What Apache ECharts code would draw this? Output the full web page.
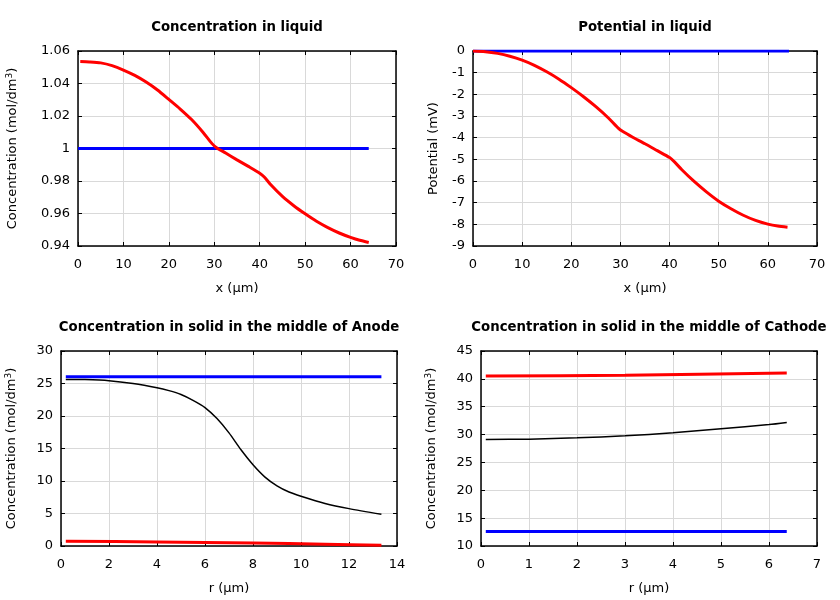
<!DOCTYPE html>
<html><head><meta charset="utf-8">
<script src="https://cdn.jsdelivr.net/npm/echarts@6/dist/echarts.min.js"></script>
<style>html,body{margin:0;padding:0;background:#fff}#c{width:840px;height:600px}</style>
</head><body><div id="c"></div>
<script>
// Panel 1: Concentration in liquid
const liqX = [0.5, 2.5, 5, 7.5, 10, 12.5, 15, 17.5, 20, 22.5, 25, 27.5, 29.5, 30.5, 32.5, 35, 37.5, 40, 41, 42.5, 45, 47.5, 50, 52.5, 55, 57.5, 60, 62, 64];
const liqConc = [1.0535, 1.0533, 1.0527, 1.0510, 1.0483, 1.0450, 1.0409, 1.0360, 1.0302, 1.0243, 1.0178, 1.0100, 1.0030, 1.0005, 0.9972, 0.9930, 0.9890, 0.9848, 0.9825, 0.9775, 0.9705, 0.9648, 0.9598, 0.9552, 0.9513, 0.9480, 0.9453, 0.9435, 0.9422];
const liqConcInitX = [0, 64];
const liqConcInit = [1.0, 1.0];
// Panel 2: Potential in liquid
const potX = [0, 2.5, 5, 7.5, 10, 12.5, 15, 17.5, 20, 22.5, 25, 27.5, 29.5, 30.5, 32.5, 35, 37.5, 40, 41, 42.5, 45, 47.5, 50, 52.5, 55, 57.5, 60, 62, 64];
const potVal = [0, -0.03, -0.11, -0.24, -0.42, -0.66, -0.96, -1.30, -1.69, -2.11, -2.57, -3.08, -3.55, -3.72, -3.98, -4.28, -4.60, -4.92, -5.12, -5.48, -6.02, -6.50, -6.93, -7.28, -7.58, -7.82, -7.99, -8.08, -8.13];
const potInitX = [0, 64.3];
const potInit = [0, 0];
// Panel 3: Anode solid concentration
const anX = [0.2, 1, 2, 3, 4, 4.5, 5, 5.5, 6, 6.5, 7, 7.5, 8, 8.5, 9, 9.5, 10, 11, 12, 13.35];
const anMid = [25.63, 25.6, 25.43, 25.0, 24.35, 23.9, 23.3, 22.4, 21.3, 19.6, 17.4, 14.8, 12.5, 10.6, 9.25, 8.3, 7.65, 6.55, 5.75, 4.88];
const anLowX = [0.2, 4, 8, 11, 13.35];
const anLow = [0.72, 0.63, 0.45, 0.28, 0.1];
const anHighX = [0.2, 13.35];
const anHigh = [26.05, 26.05];
// Panel 4: Cathode solid concentration
const caX = [0.1, 1, 2, 3, 4, 5, 6, 6.37];
const caMid = [29.12, 29.18, 29.42, 29.78, 30.32, 31.05, 31.8, 32.18];
const caHighX = [0.1, 3, 6.37];
const caHigh = [40.5, 40.65, 41.05];
const caLowX = [0.1, 6.37];
const caLow = [12.6, 12.6];

const titles = ['Concentration in liquid', 'Potential in liquid', 'Concentration in solid in the middle of Anode', 'Concentration in solid in the middle of Cathode'];
const xNames = ['x (µm)', 'x (µm)', 'r (µm)', 'r (µm)'];
const yNames = ['Concentration (mol/dm{s|3})', 'Potential (mV)', 'Concentration (mol/dm{s|3})', 'Concentration (mol/dm{s|3})'];
const xRanges = [[0, 70, 10], [0, 70, 10], [0, 14, 2], [0, 7, 1]];
const yRanges = [[0.94, 1.06, 0.02], [-9, 0, 1], [0, 30, 5], [10, 45, 5]];

const grids = [
  {left: 78, top: 51, width: 318, height: 195},
  {left: 473, top: 51, width: 344, height: 195},
  {left: 61, top: 351, width: 336, height: 195},
  {left: 481, top: 351, width: 336, height: 195}
];
const yNameGaps = [58, 33, 42, 42];
const font = 'DejaVu Sans';

function zip(a, b) { return a.map((v, i) => [v, b[i]]); }

const option = {
  backgroundColor: '#fff',
  animation: false,
  title: [], grid: [], xAxis: [], yAxis: [], series: []
};
grids.forEach((g, i) => {
  option.grid.push(Object.assign({containLabel: false}, g));
  option.title.push({
    text: titles[i], left: g.left + g.width / 2, top: i >= 2 ? 321 : 21, textAlign: 'center', padding: 0,
    textStyle: {fontFamily: font, fontSize: 13.3, fontWeight: 'bold', color: '#000'}
  });
  const axLine = {show: true, onZero: false, lineStyle: {color: '#000', width: 1.5}};
  const tick = {show: true, inside: true, length: 4, lineStyle: {color: '#000', width: 1}};
  const lbl = {fontFamily: font, fontSize: 13, color: '#000'};
  const split = {show: true, lineStyle: {color: '#d9d9d9', width: 1}};
  const xr = xRanges[i], yr = yRanges[i];
  const yLabelFmt = v => String(Math.round(v * 1000) / 1000);
  option.xAxis.push({
    type: 'value', gridIndex: i, position: 'bottom', min: xr[0], max: xr[1], interval: xr[2],
    name: xNames[i], nameLocation: 'middle', nameGap: 36,
    nameTextStyle: {fontFamily: font, fontSize: 13, color: '#000'},
    axisLine: axLine, axisTick: tick, axisLabel: Object.assign({margin: 12}, lbl), splitLine: split
  });
  option.xAxis.push({
    type: 'value', gridIndex: i, position: 'top', min: xr[0], max: xr[1], interval: xr[2],
    axisLine: axLine, axisTick: tick, axisLabel: {show: false}, splitLine: {show: false}
  });
  option.yAxis.push({
    type: 'value', gridIndex: i, position: 'left', min: yr[0], max: yr[1], interval: yr[2],
    name: yNames[i], nameLocation: 'middle', nameGap: yNameGaps[i], nameRotate: 90,
    nameTextStyle: {fontFamily: font, fontSize: 13, color: '#000',
      rich: {s: {fontFamily: font, fontSize: 9, color: '#000', verticalAlign: 'top', padding: [0, 0, 6, 0]}}},
    axisLine: axLine, axisTick: tick, axisLabel: Object.assign({margin: 8, formatter: yLabelFmt}, lbl), splitLine: split
  });
  option.yAxis.push({
    type: 'value', gridIndex: i, position: 'right', min: yr[0], max: yr[1], interval: yr[2],
    axisLine: axLine, axisTick: tick, axisLabel: {show: false}, splitLine: {show: false}
  });
});

function addLine(gi, xs, ys, color, width, z) {
  option.series.push({
    type: 'line', xAxisIndex: gi * 2, yAxisIndex: gi * 2, data: zip(xs, ys),
    showSymbol: false, symbol: 'none', smooth: 0.25, z: z || 2,
    lineStyle: {color: color, width: width}, itemStyle: {color: color}
  });
}
addLine(0, liqConcInitX, liqConcInit, '#0000ff', 3, 2);
addLine(0, liqX, liqConc, '#ff0000', 3, 3);
addLine(1, potInitX, potInit, '#0000ff', 3, 2);
addLine(1, potX, potVal, '#ff0000', 3, 3);
addLine(2, anHighX, anHigh, '#0000ff', 3, 2);
addLine(2, anX, anMid, '#000000', 1.5, 3);
addLine(2, anLowX, anLow, '#ff0000', 3, 3);
addLine(3, caHighX, caHigh, '#ff0000', 3, 3);
addLine(3, caX, caMid, '#000000', 1.5, 3);
addLine(3, caLowX, caLow, '#0000ff', 3, 2);

const chart = echarts.init(document.getElementById('c'), null, {renderer: 'canvas'});
chart.setOption(option);
</script></body></html>
